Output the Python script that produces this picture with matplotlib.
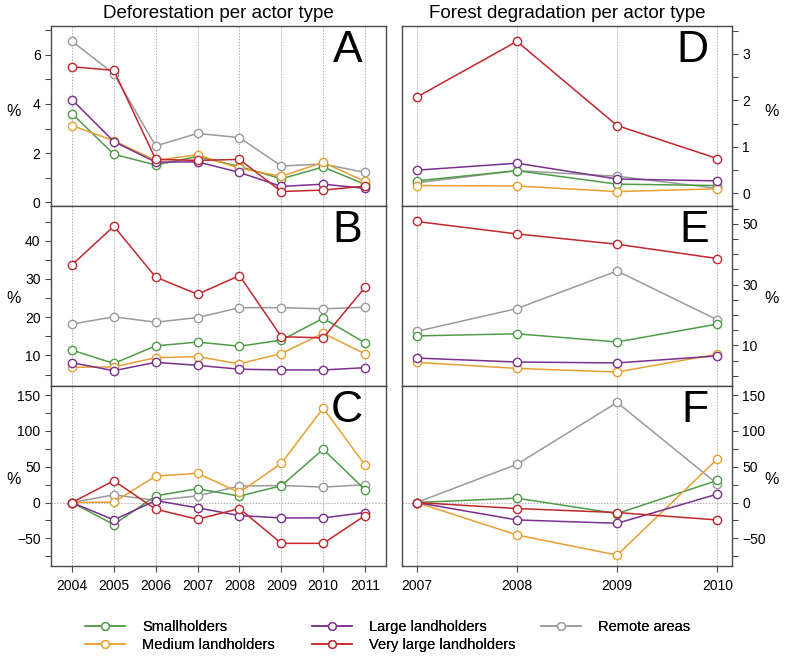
import matplotlib
matplotlib.use("Agg")
import matplotlib.pyplot as plt
from matplotlib.lines import Line2D

plt.rcParams['font.family'] = ['Liberation Sans', 'DejaVu Sans']

# Jahre
years_defor = [2004, 2005, 2006, 2007, 2008, 2009, 2010, 2011]
years_degr = [2007, 2008, 2009, 2010]

actors = ['Smallholders', 'Medium landholders', 'Large landholders',
          'Very large landholders', 'Remote areas']
colors = {
    'Smallholders': '#4f9c47',
    'Medium landholders': '#e8a032',
    'Large landholders': '#7b2f8e',
    'Very large landholders': '#c1272d',
    'Remote areas': '#9a9a9a',
}

# Panel A: Entwaldung (%)
a_small = [3.61, 1.95, 1.51, 1.86, 1.45, 0.95, 1.43, 0.72]
a_medium = [3.12, 2.50, 1.70, 1.93, 1.38, 1.05, 1.62, 0.84]
a_large = [4.18, 2.47, 1.63, 1.64, 1.21, 0.64, 0.73, 0.56]
a_vlarge = [5.52, 5.37, 1.74, 1.70, 1.74, 0.43, 0.49, 0.65]
a_remote = [6.56, 5.23, 2.29, 2.80, 2.63, 1.47, 1.55, 1.21]

# Panel B
b_small = [11.4, 7.9, 12.5, 13.5, 12.4, 14.0, 19.7, 13.3]
b_medium = [6.9, 7.0, 9.4, 9.7, 7.8, 10.5, 15.8, 10.4]
b_large = [8.1, 6.0, 8.2, 7.4, 6.4, 6.2, 6.2, 6.8]
b_vlarge = [33.7, 43.8, 30.5, 26.0, 30.9, 14.9, 14.6, 27.8]
b_remote = [18.2, 20.1, 18.7, 19.9, 22.5, 22.5, 22.2, 22.6]

# Panel C
c_small = [0, -30.8, 9.3, 19.2, 8.9, 23.4, 74.3, 17.8]
c_medium = [0, 0.5, 36.9, 40.7, 14.0, 54.7, 131.8, 52.3]
c_large = [0, -24.3, 2.8, -7.5, -18.2, -21.5, -21.5, -14.0]
c_vlarge = [0, 30.4, -9.3, -23.4, -8.4, -57.0, -57.0, -18.2]
c_remote = [0, 10.7, 3.0, 9.3, 22.9, 23.8, 21.5, 24.8]

# Panel D: Degradation (%)
d_small = [0.27, 0.49, 0.20, 0.17]
d_medium = [0.17, 0.16, 0.04, 0.10]
d_large = [0.50, 0.65, 0.31, 0.27]
d_vlarge = [2.07, 3.27, 1.46, 0.75]
d_remote = [0.23, 0.49, 0.37, 0.11]

# Panel E
e_small = [13.1, 13.8, 11.1, 17.0]
e_medium = [4.4, 2.4, 1.2, 7.1]
e_large = [5.8, 4.5, 4.2, 6.5]
e_vlarge = [50.8, 46.7, 43.3, 38.6]
e_remote = [14.6, 22.1, 34.5, 18.4]

# Panel F
f_small = [0, 6.1, -15.4, 30.8]
f_medium = [0, -45.3, -73.4, 60.7]
f_large = [0, -24.3, -29.0, 11.7]
f_vlarge = [0, -8.4, -14.0, -24.3]
f_remote = [0, 53.3, 139.7, 26.0]

MINUS = '\u2212'


def fmt(v):
    s = f"{v:g}"
    return s.replace('-', MINUS)


def px_axes(fig, x0, y0, x1, y1):
    W, H = 786, 656
    return fig.add_axes([x0 / W, (H - y1) / H, (x1 - x0) / W, (y1 - y0) / H])


def style_panel(ax, years, xlim, ylim, ticks, labeled, letter, right=False, bottom=False, zero=False):
    ax.set_xlim(*xlim)
    ax.set_ylim(*ylim)
    for y in years:
        ax.axvline(y, color='#b0b0b0', lw=0.7, ls=(0, (1.5, 1.5)), zorder=0)
    if zero:
        ax.axhline(0, color='#b0b0b0', lw=0.7, ls=(0, (1.5, 1.5)), zorder=0)
    for sp in ax.spines.values():
        sp.set_color('#4a4a4a')
        sp.set_linewidth(1.0)
    ax.set_yticks(ticks)
    ax.set_yticklabels([fmt(t) if t in labeled else '' for t in ticks])
    if right:
        ax.yaxis.tick_right()
    ax.tick_params(axis='y', length=4.5, width=0.8, color='#4a4a4a', labelsize=10, pad=3)
    ax.set_xticks(years)
    if bottom:
        ax.set_xticklabels([str(y) for y in years])
        ax.tick_params(axis='x', length=4.5, width=0.8, color='#4a4a4a', labelsize=10, pad=5)
    else:
        ax.tick_params(axis='x', length=0, labelbottom=False)
    ax.text(0.93, 0.975, letter, transform=ax.transAxes, ha='right', va='top', fontsize=32)


def plot_series(ax, years, series):
    order = ['Remote areas', 'Smallholders', 'Medium landholders', 'Large landholders', 'Very large landholders']
    for name in order:
        ax.plot(years, series[name], color=colors[name], lw=1.1, marker='o', ms=6,
                mfc='white', mec=colors[name], mew=1.0, clip_on=False, zorder=3)


def main():
    fig = plt.figure(figsize=(7.86, 6.56), dpi=100)

    rows = [(26, 206), (206, 386), (386, 566)]
    left = (51, 386)
    right = (402, 732)
    xl_l = (2003.5, 2011.5)
    xl_r = (2006.853, 2010.147)

    axA = px_axes(fig, left[0], rows[0][0], left[1], rows[0][1])
    plot_series(axA, years_defor, dict(zip(actors, [a_small, a_medium, a_large, a_vlarge, a_remote])))
    style_panel(axA, years_defor, xl_l, (-0.16, 7.18), list(range(0, 8)), [0, 2, 4, 6], 'A')

    axB = px_axes(fig, left[0], rows[1][0], left[1], rows[1][1])
    plot_series(axB, years_defor, dict(zip(actors, [b_small, b_medium, b_large, b_vlarge, b_remote])))
    style_panel(axB, years_defor, xl_l, (2.0, 49.1), list(range(5, 50, 5)), [10, 20, 30, 40], 'B')

    axC = px_axes(fig, left[0], rows[2][0], left[1], rows[2][1])
    plot_series(axC, years_defor, dict(zip(actors, [c_small, c_medium, c_large, c_vlarge, c_remote])))
    style_panel(axC, years_defor, xl_l, (-88.6, 162.6), list(range(-75, 151, 25)),
                [-50, 0, 50, 100, 150], 'C', bottom=True, zero=True)

    axD = px_axes(fig, right[0], rows[0][0], right[1], rows[0][1])
    plot_series(axD, years_degr, dict(zip(actors, [d_small, d_medium, d_large, d_vlarge, d_remote])))
    style_panel(axD, years_degr, xl_r, (-0.27, 3.6), [0, 0.5, 1, 1.5, 2, 2.5, 3, 3.5], [0, 1, 2, 3], 'D', right=True)

    axE = px_axes(fig, right[0], rows[1][0], right[1], rows[1][1])
    plot_series(axE, years_degr, dict(zip(actors, [e_small, e_medium, e_large, e_vlarge, e_remote])))
    style_panel(axE, years_degr, xl_r, (-3.4, 55.9), list(range(0, 56, 5)), [10, 30, 50], 'E', right=True)

    axF = px_axes(fig, right[0], rows[2][0], right[1], rows[2][1])
    plot_series(axF, years_degr, dict(zip(actors, [f_small, f_medium, f_large, f_vlarge, f_remote])))
    style_panel(axF, years_degr, xl_r, (-88.6, 162.6), list(range(-75, 151, 25)),
                [-50, 0, 50, 100, 150], 'F', right=True, bottom=True, zero=True)

    # Titel
    fig.text(218.5 / 786, 1 - 18.5 / 656, 'Deforestation per actor type', ha='center', va='baseline', fontsize=13.5)
    fig.text(567 / 786, 1 - 18.5 / 656, 'Forest degradation per actor type', ha='center', va='baseline', fontsize=13.5)

    # Achsenbeschriftung "%"
    for yc in [112, 298, 480]:
        fig.text(14 / 786, 1 - yc / 656, '%', ha='center', va='center', fontsize=11.5)
        fig.text(772 / 786, 1 - yc / 656, '%', ha='center', va='center', fontsize=11.5)

    # Legende: drei Spalten
    cols = [(85, ['Smallholders', 'Medium landholders']),
            (312, ['Large landholders', 'Very large landholders']),
            (541, ['Remote areas'])]
    for x0, names in cols:
        handles = [Line2D([0], [0], color=colors[n], lw=1.1, marker='o', ms=5.5,
                          mfc='white', mec=colors[n], mew=1.0) for n in names]
        leg = fig.legend(handles, names, loc='upper left', bbox_to_anchor=(x0 / 786, 1 - 620 / 656),
                         frameon=False, fontsize=10.5, borderpad=0, borderaxespad=0,
                         handlelength=2.75, handletextpad=1.15, labelspacing=0.25)
        fig.add_artist(leg)

    fig.savefig('out.png', dpi=100)


if __name__ == "__main__":
    main()
